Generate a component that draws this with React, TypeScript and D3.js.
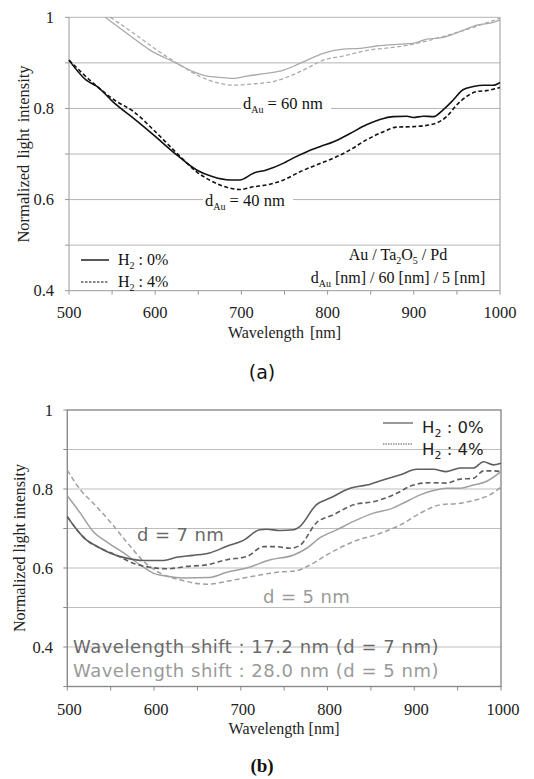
import * as d3 from "d3";

type Pt = [number, number];

// (a) Au / Ta2O5 / Pd, wavelength [nm] vs normalized intensity
const au40H0: Pt[] = [
  [500, 0.906], [520, 0.862], [532, 0.849], [553, 0.811], [575, 0.778], [598, 0.742],
  [625, 0.698], [648, 0.665], [667, 0.65], [687, 0.643], [698, 0.643], [714, 0.658],
  [729, 0.665], [749, 0.68], [760, 0.691], [776, 0.705], [791, 0.716], [807, 0.727],
  [826, 0.745], [845, 0.764], [865, 0.778], [876, 0.782], [892, 0.783], [899, 0.78],
  [911, 0.783], [923, 0.782], [934, 0.797], [946, 0.819], [957, 0.841], [969, 0.848],
  [981, 0.851], [992, 0.851], [1000, 0.857],
];
const au40H4: Pt[] = [
  [500, 0.906], [532, 0.849], [553, 0.818], [575, 0.793], [598, 0.753], [625, 0.702],
  [648, 0.661], [667, 0.639], [687, 0.625], [698, 0.622], [714, 0.628], [729, 0.632],
  [749, 0.643], [768, 0.661], [787, 0.676], [807, 0.691], [826, 0.709], [845, 0.731],
  [865, 0.749], [880, 0.759], [899, 0.76], [923, 0.766], [938, 0.782], [950, 0.808],
  [961, 0.826], [973, 0.837], [984, 0.839], [1000, 0.846],
];
const au60H0: Pt[] = [
  [542, 1.0], [567, 0.965], [594, 0.928], [625, 0.899], [644, 0.881], [660, 0.871],
  [675, 0.868], [691, 0.866], [706, 0.871], [729, 0.877], [749, 0.884], [760, 0.892],
  [776, 0.906], [795, 0.921], [818, 0.93], [838, 0.932], [857, 0.937], [884, 0.941],
  [899, 0.943], [915, 0.952], [934, 0.956], [954, 0.969], [973, 0.983], [988, 0.987],
  [1000, 0.994],
];
const au60H4: Pt[] = [
  [548, 1.0], [575, 0.965], [602, 0.928], [629, 0.895], [652, 0.87], [675, 0.855],
  [691, 0.851], [714, 0.854], [737, 0.859], [756, 0.871], [776, 0.888], [795, 0.906],
  [818, 0.915], [845, 0.927], [884, 0.936], [899, 0.941], [923, 0.952], [954, 0.969],
  [977, 0.983], [1000, 0.998],
];

// (b) Pd thickness d = 7 nm and d = 5 nm
const pd7H0: Pt[] = [
  [500, 0.73], [511, 0.697], [522, 0.671], [534, 0.655], [549, 0.638], [568, 0.625],
  [588, 0.619], [611, 0.619], [626, 0.627], [645, 0.632], [664, 0.638], [684, 0.655],
  [703, 0.67], [722, 0.697], [730, 0.698], [745, 0.695], [761, 0.697], [768, 0.705],
  [787, 0.76], [803, 0.777], [826, 0.802], [845, 0.81], [864, 0.823], [884, 0.836],
  [903, 0.85], [922, 0.85], [937, 0.844], [953, 0.853], [968, 0.853], [980, 0.869],
  [991, 0.861], [1000, 0.865],
];
const pd7H4: Pt[] = [
  [500, 0.73], [511, 0.697], [522, 0.671], [538, 0.65], [557, 0.632], [576, 0.612],
  [595, 0.602], [615, 0.598], [638, 0.604], [661, 0.608], [684, 0.621], [707, 0.629],
  [726, 0.654], [741, 0.654], [757, 0.65], [768, 0.657], [787, 0.714], [807, 0.735],
  [830, 0.76], [853, 0.768], [876, 0.785], [899, 0.81], [918, 0.816], [937, 0.815],
  [953, 0.825], [968, 0.827], [980, 0.846], [991, 0.846], [1000, 0.844],
];
const pd5H0: Pt[] = [
  [500, 0.783], [515, 0.739], [530, 0.692], [545, 0.667], [565, 0.638], [584, 0.608],
  [599, 0.587], [615, 0.579], [634, 0.575], [664, 0.576], [684, 0.589], [707, 0.6],
  [734, 0.621], [761, 0.633], [776, 0.65], [791, 0.676], [811, 0.697], [830, 0.718],
  [853, 0.739], [872, 0.749], [887, 0.764], [907, 0.785], [922, 0.796], [937, 0.802],
  [953, 0.802], [968, 0.81], [983, 0.819], [1000, 0.844],
];
const pd5H4: Pt[] = [
  [500, 0.848], [515, 0.798], [530, 0.764], [549, 0.718], [568, 0.667], [588, 0.617],
  [607, 0.587], [630, 0.57], [661, 0.559], [688, 0.568], [714, 0.579], [741, 0.589],
  [764, 0.593], [780, 0.608], [799, 0.633], [830, 0.667], [861, 0.688], [884, 0.709],
  [907, 0.739], [930, 0.76], [953, 0.764], [972, 0.773], [987, 0.785], [1000, 0.805],
];

const xTickLabels = [500, 600, 700, 800, 900, 1000];
const xTickMarks = [500, 550, 600, 650, 700, 750, 800, 850, 900, 950, 1000];
const yTickLabels = [0.4, 0.6, 0.8, 1];
const yGrid = [0.4, 0.5, 0.6, 0.7, 0.8, 0.9, 1];

const serif = "Liberation Serif";
const sans = "DejaVu Sans";

function PanelA() {
  const x = d3.scaleLinear().domain([500, 1000]).range([69, 500]);
  const y = d3.scaleLinear().domain([0.4, 1]).range([290.7, 17.3]);
  const line = d3
    .line<Pt>()
    .x((d) => x(d[0]))
    .y((d) => y(d[1]))
    .curve(d3.curveMonotoneX);
  const fmt = (v: number) => (v === 1 ? "1" : v.toFixed(1));

  return (
    <g style={{ fontFamily: serif }}>
      {yGrid.filter((v) => v > 0.4).map((v) => (
        <line key={v} x1={x(500)} x2={x(1000)} y1={y(v)} y2={y(v)} stroke="#b4b4b4" strokeWidth={1} />
      ))}
      <line x1={x(500)} x2={x(500)} y1={y(1)} y2={y(0.4)} stroke="#999" />
      <line x1={x(1000)} x2={x(1000)} y1={y(1)} y2={y(0.4)} stroke="#999" />
      <line x1={x(500)} x2={x(1000)} y1={y(0.4)} y2={y(0.4)} stroke="#999" />
      {xTickMarks.map((t) => (
        <line key={t} x1={x(t)} x2={x(t)} y1={y(0.4)} y2={y(0.4) + 4} stroke="#999" />
      ))}
      {yGrid.map((v) => (
        <line key={v} x1={x(500) - 4} x2={x(500)} y1={y(v)} y2={y(v)} stroke="#999" />
      ))}
      {yTickLabels.map((v) => (
        <text key={v} x={54} y={y(v)} dy="0.35em" textAnchor="end" fontSize={16.5} fill="#222">
          {fmt(v)}
        </text>
      ))}
      {xTickLabels.map((t) => (
        <text key={t} x={x(t)} y={318} textAnchor="middle" fontSize={16.5} fill="#222">
          {t}
        </text>
      ))}
      <text x={x(750)} y={338} textAnchor="middle" fontSize={16} fill="#222" wordSpacing={2}>
        Wavelength [nm]
      </text>
      <text transform={`translate(29,${y(0.7)}) rotate(-90)`} textAnchor="middle" fontSize={16.5} fill="#222" wordSpacing={2}>
        Normalized light intensity
      </text>

      <path d={line(au60H0) ?? ""} fill="none" stroke="#aaa" strokeWidth={1.3} />
      <path d={line(au60H4) ?? ""} fill="none" stroke="#aaa" strokeWidth={1.3} strokeDasharray="4,2.5" />
      <path d={line(au40H0) ?? ""} fill="none" stroke="#111" strokeWidth={1.6} />
      <path d={line(au40H4) ?? ""} fill="none" stroke="#111" strokeWidth={1.6} strokeDasharray="4,2.5" />

      <rect x={241} y={95} width={90} height={18} fill="#fff" />
      <text x={243} y={109} fontSize={16.5} fill="#111">
        d<tspan dy={4} fontSize={10}>Au</tspan>
        <tspan dy={-4}> = 60 nm</tspan>
      </text>
      <rect x={203} y={192} width={90} height={18} fill="#fff" />
      <text x={205} y={206} fontSize={16.5} fill="#111">
        d<tspan dy={4} fontSize={10}>Au</tspan>
        <tspan dy={-4}> = 40 nm</tspan>
      </text>

      <line x1={81} x2={109} y1={260} y2={260} stroke="#111" strokeWidth={1.4} />
      <line x1={81} x2={109} y1={282} y2={282} stroke="#111" strokeWidth={1.2} strokeDasharray="2.5,1.5" />
      <text x={118} y={265} fontSize={16} fill="#111">
        H<tspan dy={4} fontSize={10}>2</tspan>
        <tspan dy={-4}> : 0%</tspan>
      </text>
      <text x={118} y={287} fontSize={16} fill="#111">
        H<tspan dy={4} fontSize={10}>2</tspan>
        <tspan dy={-4}> : 4%</tspan>
      </text>

      <text x={398} y={260} textAnchor="middle" fontSize={16} fill="#111">
        Au / Ta<tspan dy={4} fontSize={10}>2</tspan>
        <tspan dy={-4}>O</tspan>
        <tspan dy={4} fontSize={10}>5</tspan>
        <tspan dy={-4}> / Pd</tspan>
      </text>
      <text x={398} y={283} textAnchor="middle" fontSize={16} fill="#111">
        d<tspan dy={4} fontSize={10}>Au</tspan>
        <tspan dy={-4}> [nm] / 60 [nm] / 5 [nm]</tspan>
      </text>

      <text x={262} y={379} textAnchor="middle" fontSize={19} style={{ fontFamily: sans }} fill="#111">
        (a)
      </text>
    </g>
  );
}

function PanelB() {
  const x = d3.scaleLinear().domain([500, 1000]).range([67.3, 501]);
  const y = d3.scaleLinear().domain([0.3, 1]).range([686.5, 410]);
  const line = d3
    .line<Pt>()
    .x((d) => x(d[0]))
    .y((d) => y(d[1]))
    .curve(d3.curveMonotoneX);
  const fmt = (v: number) => (v === 1 ? "1" : v.toFixed(1));
  const dark = "#5e5e5e";
  const light = "#a0a0a0";

  return (
    <g style={{ fontFamily: serif }}>
      {yGrid.filter((v) => v < 1).map((v) => (
        <line key={v} x1={x(500)} x2={x(1000)} y1={y(v)} y2={y(v)} stroke="#bdbdbd" strokeWidth={1.2} />
      ))}
      <rect x={x(500)} y={y(1)} width={x(1000) - x(500)} height={y(0.3) - y(1)} fill="none" stroke="#8a8a8a" strokeWidth={1.4} />
      {xTickMarks.map((t) => (
        <line key={t} x1={x(t)} x2={x(t)} y1={y(0.3)} y2={y(0.3) + 4} stroke="#8a8a8a" />
      ))}
      {[0.3, ...yGrid].map((v) => (
        <line key={v} x1={x(500) - 4} x2={x(500)} y1={y(v)} y2={y(v)} stroke="#8a8a8a" />
      ))}
      {yTickLabels.map((v) => (
        <text key={v} x={53} y={y(v)} dy="0.35em" textAnchor="end" fontSize={16.5} fill="#222">
          {fmt(v)}
        </text>
      ))}
      {xTickLabels.map((t) => (
        <text key={t} x={x(t) + 2} y={715} textAnchor="middle" fontSize={16.5} fill="#222">
          {t}
        </text>
      ))}
      <text x={x(750)} y={734} textAnchor="middle" fontSize={16} fill="#222">
        Wavelength [nm]
      </text>
      <text transform={`translate(25,${548}) rotate(-90)`} textAnchor="middle" fontSize={16} fill="#222">
        Normalized light intensity
      </text>

      <path d={line(pd5H0) ?? ""} fill="none" stroke={light} strokeWidth={1.5} />
      <path d={line(pd5H4) ?? ""} fill="none" stroke={light} strokeWidth={1.5} strokeDasharray="5,3" />
      <path d={line(pd7H0) ?? ""} fill="none" stroke={dark} strokeWidth={1.6} />
      <path d={line(pd7H4) ?? ""} fill="none" stroke={dark} strokeWidth={1.6} strokeDasharray="5,3" />

      <g style={{ fontFamily: sans }}>
        <text x={137} y={541} fontSize={18} letterSpacing={0.4} fill="#6a6a6a">d = 7 nm</text>
        <text x={263} y={603} fontSize={18} letterSpacing={0.4} fill="#9a9a9a">d = 5 nm</text>
        <text x={73} y={653} fontSize={18} letterSpacing={0.5} fill="#6a6a6a">Wavelength shift : 17.2 nm (d = 7 nm)</text>
        <text x={73} y={677} fontSize={18} letterSpacing={0.5} fill="#9a9a9a">Wavelength shift : 28.0 nm (d = 5 nm)</text>

        <line x1={383} x2={413} y1={423} y2={423} stroke="#555" strokeWidth={1.2} />
        <line x1={383} x2={413} y1={444} y2={444} stroke="#555" strokeWidth={1.2} strokeDasharray="1.5,1" />
        <text x={422} y={433} fontSize={16.5} fill="#222">
          H<tspan dy={4} fontSize={11}>2</tspan>
          <tspan dy={-4}> : 0%</tspan>
        </text>
        <text x={422} y={455} fontSize={16.5} fill="#222">
          H<tspan dy={4} fontSize={11}>2</tspan>
          <tspan dy={-4}> : 4%</tspan>
        </text>
      </g>

      <text x={262} y={772} textAnchor="middle" fontSize={19} fontWeight="bold" fill="#111">
        (b)
      </text>
    </g>
  );
}

export default function App() {
  return (
    <svg
      width={534}
      height={779}
      style={{ position: "absolute", left: 0, top: 0, background: "#fff" }}
    >
      <rect width={534} height={779} fill="#fff" />
      <PanelA />
      <PanelB />
    </svg>
  );
}
